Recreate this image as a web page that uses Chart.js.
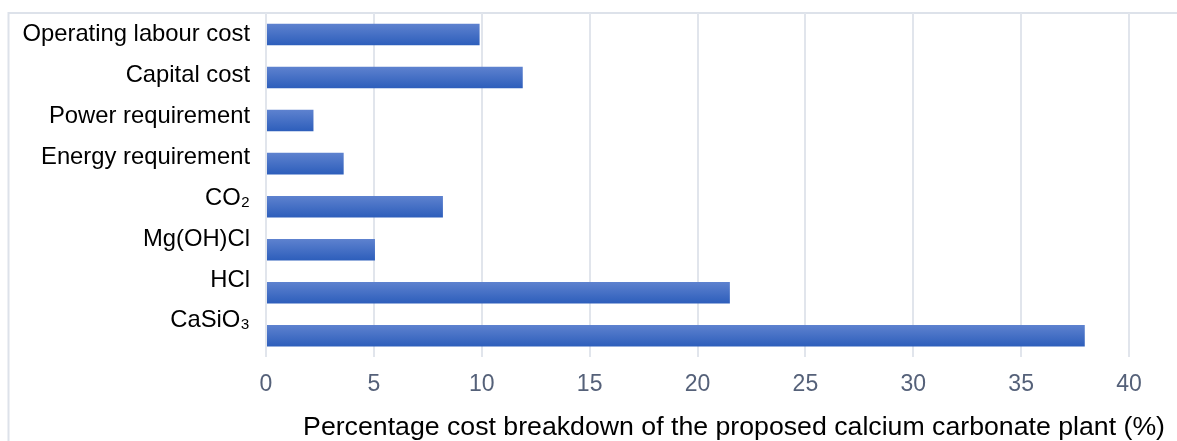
<!DOCTYPE html>
<html>
<head>
<meta charset="utf-8">
<style>
  html, body { margin: 0; padding: 0; background: #ffffff; }
  #wrap { width: 1177px; height: 441px; position: relative; }
</style>
<script src="https://cdn.jsdelivr.net/npm/chart.js@4.4.1/dist/chart.umd.min.js"></script>
</head>
<body>
<div id="wrap"><canvas id="costChart" width="1177" height="441"></canvas></div>
<script>
// Cost items, listed top to bottom
const categories = [
  'Operating labour cost',
  'Capital cost',
  'Power requirement',
  'Energy requirement',
  'CO₂',
  'Mg(OH)Cl',
  'HCl',
  'CaSiO₃'
];

// Share of total plant cost (%)
const costShare = [9.9, 11.9, 2.2, 3.6, 8.2, 5.05, 21.5, 37.95];

// Value axis ticks
const xTicks = [0, 5, 10, 15, 20, 25, 30, 35, 40];

const axisTitle = 'Percentage cost breakdown of the proposed calcium carbonate plant (%)';

const FONT = "'Liberation Sans', Arial, Helvetica, sans-serif";

// Light outer frame along the left and top edges
const framePlugin = {
  id: 'frame',
  beforeDraw(chart) {
    const { ctx, chartArea, width, height } = chart;
    ctx.save();
    ctx.strokeStyle = '#dde2ea';
    ctx.lineWidth = 2;
    ctx.beginPath();
    ctx.moveTo(8.5, height);
    ctx.lineTo(8.5, chartArea.top);
    ctx.lineTo(width, chartArea.top);
    ctx.stroke();
    ctx.restore();
  }
};

// The label axis spreads its category names over a slightly shorter span
const labelAxisPlugin = {
  id: 'labelAxis',
  afterLayout(chart) {
    const s = chart.scales.yl;
    const area = chart.chartArea;
    s.top = area.top + 1;
    s.bottom = area.bottom - 16;
    s.configure();
  }
};

// Vertical blue gradient for each bar
function barFill(context) {
  const chart = context.chart;
  const yScale = chart.scales.y;
  const area = chart.chartArea;
  if (!yScale || !area) return '#4470c4';
  const center = yScale.getPixelForValue(context.dataIndex);
  const half = (area.height / categories.length) * 0.5 / 2;
  const g = chart.ctx.createLinearGradient(0, center - half, 0, center + half);
  g.addColorStop(0, '#5e82cf');
  g.addColorStop(1, '#2d5ebb');
  return g;
}

new Chart(document.getElementById('costChart'), {
  type: 'bar',
  data: {
    labels: categories,
    datasets: [{
      data: costShare,
      backgroundColor: barFill,
      borderWidth: 0,
      categoryPercentage: 0.5,
      barPercentage: 1.0
    }]
  },
  plugins: [framePlugin, labelAxisPlugin],
  options: {
    indexAxis: 'y',
    responsive: false,
    animation: false,
    devicePixelRatio: 1,
    layout: { padding: { left: 0, right: 12, top: 13, bottom: 0 } },
    plugins: {
      legend: { display: false },
      tooltip: { enabled: false },
      title: {
        display: true,
        position: 'bottom',
        align: 'end',
        text: axisTitle,
        color: '#000000',
        font: { family: FONT, size: 26.7, weight: 'normal', lineHeight: 1.0 },
        padding: { top: 0, bottom: 0 }
      }
    },
    scales: {
      x: {
        type: 'linear',
        position: 'bottom',
        min: 0,
        max: 40,
        afterBuildTicks(scale) {
          scale.ticks = xTicks.map(v => ({ value: v }));
        },
        afterFit(scale) {
          scale.height = 57;
          scale.paddingRight = 48;
        },
        border: { display: false },
        grid: { color: '#e1e5ec', lineWidth: 2, drawTicks: false },
        ticks: {
          color: '#556179',
          font: { family: FONT, size: 23 },
          padding: 14
        }
      },
      y: {
        type: 'category',
        display: false,
        offset: true,
        afterFit(scale) {
          scale.paddingTop = 0;
          scale.paddingBottom = 0;
        }
      },
      yl: {
        type: 'category',
        axis: 'y',
        position: 'left',
        labels: categories,
        offset: true,
        grid: { display: false, drawTicks: false },
        border: { display: false },
        ticks: {
          color: '#000000',
          font: { family: FONT, size: 23.8 },
          padding: 16
        },
        afterFit(scale) {
          scale.width = 266;
          scale.paddingTop = 0;
          scale.paddingBottom = 0;
        }
      }
    }
  }
});
</script>
</body>
</html>
